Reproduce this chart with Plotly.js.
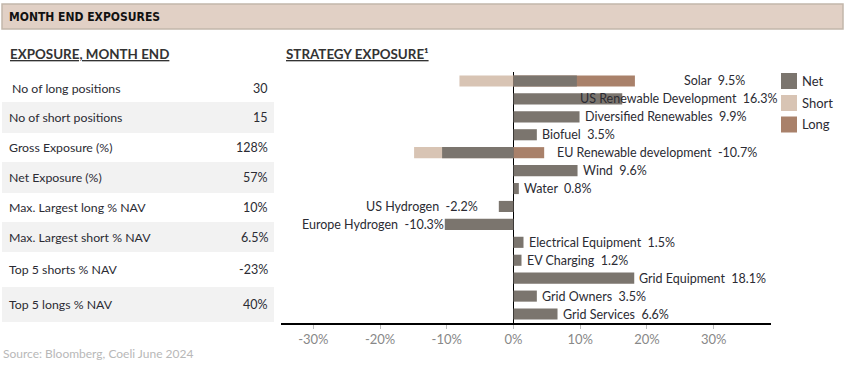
<!DOCTYPE html>
<html>
<head>
<meta charset="utf-8">
<script src="https://cdn.plot.ly/plotly-3.0.1.min.js"></script>
<style>html,body{margin:0;padding:0;background:#fff;}#chart{width:846px;height:367px;}</style>
</head>
<body>
<div id="chart"></div>
<script>
// ---- data ----
const headerTitle = "MONTH END EXPOSURES";
const tableTitle = "EXPOSURE, MONTH END";
const chartTitle = "STRATEGY EXPOSURE¹";
const sourceText = "Source: Bloomberg, Coeli June 2024";

const tableLabels = ["No of long positions", "No of short positions", "Gross Exposure (%)", "Net Exposure (%)",
  "Max. Largest long % NAV", "Max. Largest short % NAV", "Top 5 shorts % NAV", "Top 5 longs % NAV"];
const tableValues = ["30", "15", "128%", "57%", "10%", "6.5%", "-23%", "40%"];

const categories = ["Solar", "US Renewable Development", "Diversified Renewables", "Biofuel",
  "EU Renewable development", "Wind", "Water", "US Hydrogen", "Europe Hydrogen",
  "Electrical Equipment", "EV Charging", "Grid Equipment", "Grid Owners", "Grid Services"];
const netValues   = [9.5, 16.3, 9.9, 3.5, -10.7, 9.6, 0.8, -2.2, -10.3, 1.5, 1.2, 18.1, 3.5, 6.6];
const shortValues = [-8.1, null, null, null, -14.9, null, null, null, null, null, null, null, null, null];
const longValues  = [18.2, null, null, null, 4.6, null, null, null, null, null, null, null, null, null];
const seriesNames = ["Net", "Short", "Long"];
const tickValues = [-30, -20, -10, 0, 10, 20, 30];
const tickLabels = ["-30%", "-20%", "-10%", "0%", "10%", "20%", "30%"];

// ---- styles / layout constants ----
const W = 846, H = 367;
const px = x => x / W, py = y => 1 - y / H;
const colors = {Net: "#7b756e", Short: "#d8c4b4", Long: "#a9816a"};
const FONT = "Lato, 'Open Sans', sans-serif";
const TXT = "#2b2b33";
const rowBounds = [70, 102, 133, 162, 193, 222, 252, 287, 322];
// manual label nudges (px), like the hand-placed labels of the original
const labelShift = {"Solar": 44, "US Renewable Development": -47, "US Hydrogen": -20, "EU Renewable development": 8};

const traces = [
  {type: "bar", orientation: "h", name: "Short", y: categories, x: shortValues,
   marker: {color: colors.Short}, width: 0.62, hoverinfo: "skip"},
  {type: "bar", orientation: "h", name: "Long", y: categories, x: longValues,
   marker: {color: colors.Long}, width: 0.62, hoverinfo: "skip"},
  {type: "bar", orientation: "h", name: "Net", y: categories, x: netValues,
   marker: {color: colors.Net}, width: 0.62, hoverinfo: "skip"}
];

const shapes = [];
const annotations = [];

// header band
shapes.push({type: "rect", xref: "paper", yref: "paper", x0: px(2), x1: px(843), y0: py(4), y1: py(29),
  fillcolor: "#e1d0c5", line: {color: "#c2b6ab", width: 1.5}, layer: "below"});
annotations.push({xref: "paper", yref: "paper", x: px(7), y: py(17), xanchor: "left", yanchor: "middle",
  text: "<b>" + headerTitle + "</b>", showarrow: false,
  font: {family: "'DejaVu Sans Condensed', 'DejaVu Sans', sans-serif", size: 12, color: "#111"}});

// titles
annotations.push({xref: "paper", yref: "paper", x: px(8), y: py(54), xanchor: "left", yanchor: "middle",
  text: "<b><u>" + tableTitle + "</u></b>", showarrow: false, font: {family: FONT, size: 13.4, color: "#333"}});
annotations.push({xref: "paper", yref: "paper", x: px(284), y: py(54), xanchor: "left", yanchor: "middle",
  text: "<b><u>" + chartTitle + "</u></b>", showarrow: false,
  font: {family: FONT, size: 13.4, color: "#333"}});

// table
tableLabels.forEach((lab, i) => {
  const top = rowBounds[i], bot = rowBounds[i + 1];
  if (i % 2 === 1) {
    shapes.push({type: "rect", xref: "paper", yref: "paper", x0: px(2), x1: px(274), y0: py(top), y1: py(bot),
      fillcolor: "#f2f2f2", line: {width: 0}, layer: "below"});
  }
  const yc = (top + bot) / 2 + (i === 0 ? 2 : 0);
  annotations.push({xref: "paper", yref: "paper", x: px(i === 0 ? 10 : 7), y: py(yc), xanchor: "left", yanchor: "middle",
    text: lab, showarrow: false, font: {family: FONT, size: 12.3, color: TXT}});
  annotations.push({xref: "paper", yref: "paper", x: px(270), y: py(yc), xanchor: "right", yanchor: "middle",
    text: tableValues[i], showarrow: false, font: {family: FONT, size: 12.5, color: TXT}});
});

// source
annotations.push({xref: "paper", yref: "paper", x: px(1), y: py(353), xanchor: "left", yanchor: "middle",
  text: sourceText, showarrow: false, font: {family: FONT, size: 12, color: "#b8b8b8"}});

// bar labels
categories.forEach((cat, i) => {
  const n = netValues[i], l = longValues[i] || 0, s = shortValues[i] || 0;
  const txt = cat + "  " + n.toFixed(1) + "%";
  const right = (n > 0 || l > 0);
  const x = right ? Math.max(n, l) : Math.min(n, s);
  const extra = labelShift[cat] || 0;
  annotations.push({xref: "x", yref: "y", x: x, y: cat, xanchor: right ? "left" : "right", yanchor: "middle",
    xshift: (right ? 3 : 1) + extra, text: txt, showarrow: false, font: {family: FONT, size: 12.5, color: TXT}});
});

// legend
const legY = [81, 103, 124.5];
seriesNames.forEach((nm, i) => {
  shapes.push({type: "rect", xref: "paper", yref: "paper", x0: px(781), x1: px(797), y0: py(legY[i] - 8), y1: py(legY[i] + 8),
    fillcolor: colors[nm], line: {width: 0}});
  annotations.push({xref: "paper", yref: "paper", x: px(800), y: py(legY[i]), xanchor: "left", yanchor: "middle",
    text: nm, showarrow: false, font: {family: FONT, size: 13, color: TXT}});
});

const layout = {
  width: W, height: H,
  margin: {l: 0, r: 0, t: 0, b: 0},
  paper_bgcolor: "#fff", plot_bgcolor: "rgba(0,0,0,0)",
  barmode: "overlay", showlegend: false,
  font: {family: FONT, color: TXT},
  xaxis: {domain: [px(281), px(771)], range: [-34.85, 38.6], tickvals: tickValues, ticktext: tickLabels,
    showgrid: false, zeroline: true, zerolinecolor: "#000", zerolinewidth: 1.5,
    showline: true, linecolor: "#000", linewidth: 1.5, ticks: "outside", ticklen: 4, tickcolor: "#bbb",
    tickfont: {family: FONT, size: 13, color: "#888"}, fixedrange: true},
  yaxis: {domain: [1 - 323 / H, 1 - 72 / H], categoryorder: "array", categoryarray: categories,
    range: [categories.length - 0.5, -0.5], showticklabels: false, showgrid: false, zeroline: false,
    showline: false, ticks: "", fixedrange: true},
  shapes: shapes, annotations: annotations
};

Plotly.newPlot("chart", traces, layout, {displayModeBar: false, staticPlot: true});
</script>
</body>
</html>
